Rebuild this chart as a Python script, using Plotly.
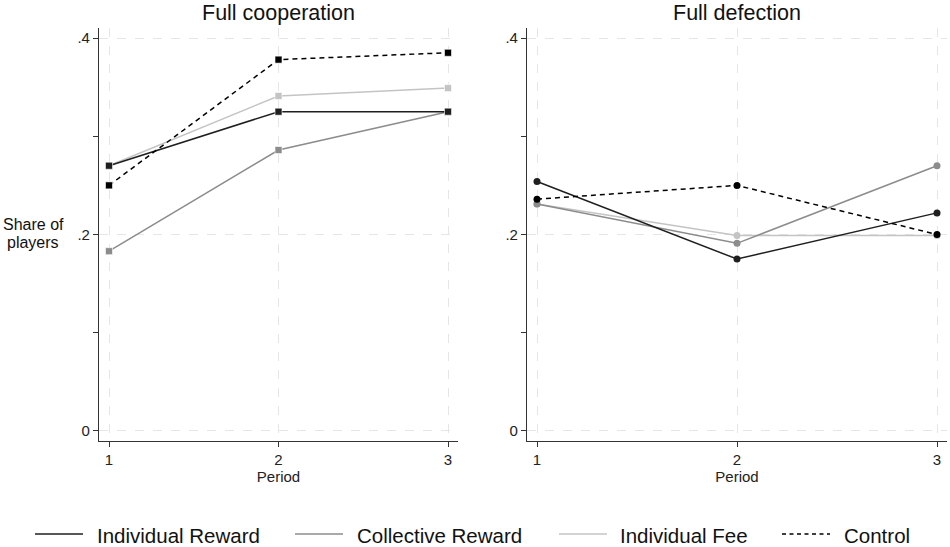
import plotly.graph_objects as go

periods = [1, 2, 3]
series_names = ["Individual Reward", "Collective Reward", "Individual Fee", "Control"]

coop_individual_reward = [0.270, 0.325, 0.325]
coop_collective_reward = [0.183, 0.286, 0.325]
coop_individual_fee = [0.270, 0.341, 0.349]
coop_control = [0.250, 0.378, 0.385]

defect_individual_reward = [0.254, 0.175, 0.222]
defect_collective_reward = [0.231, 0.191, 0.270]
defect_individual_fee = [0.231, 0.199, 0.199]
defect_control = [0.236, 0.250, 0.200]

y_tickvals = [0, 0.2, 0.4]
y_ticktext = ["0", ".2", ".4"]
x_tickvals = [1, 2, 3]
panel_titles = ["Full cooperation", "Full defection"]
y_title_lines = ["Share of", "players"]

colors = ["#1f1f1f", "#8c8c8c", "#c4c4c4", "#000000"]
dashes = ["solid", "solid", "solid", "5px,4px"]

coop = [coop_individual_reward, coop_collective_reward, coop_individual_fee, coop_control]
defect = [defect_individual_reward, defect_collective_reward, defect_individual_fee, defect_control]

FONT = "Liberation Sans, Arial"

fig = go.Figure()

for i in [2, 1, 0, 3]:
    fig.add_trace(go.Scatter(
        x=periods, y=coop[i], mode="lines+markers", showlegend=False, name=series_names[i],
        line=dict(color=colors[i], width=1.5, dash=dashes[i]),
        marker=dict(symbol="square", size=7, color=colors[i],
                    line=dict(color="white", width=0.6)),
        xaxis="x", yaxis="y"))
for i in [2, 1, 0, 3]:
    fig.add_trace(go.Scatter(
        x=periods, y=defect[i], mode="lines+markers", showlegend=False, name=series_names[i],
        line=dict(color=colors[i], width=1.5, dash=dashes[i]),
        marker=dict(symbol="circle", size=7, color=colors[i]),
        xaxis="x2", yaxis="y2"))

# body margin is removed via post_script, so the figure fills the window
W, H = 950, 547
def fx(p):
    return p / W
def fy(p):
    return 1 - p / H

axis_common = dict(
    showline=True, linecolor="#333333", linewidth=1.2,
    ticks="outside", ticklen=5, tickcolor="#333333",
    showgrid=True, gridcolor="#e6e6e6", griddash="dash", gridwidth=1,
    zeroline=False, tickfont=dict(family=FONT, size=15, color="#222"),
)

xcommon = dict(axis_common, tickvals=x_tickvals, ticktext=[str(v) for v in x_tickvals],
               tickfont=dict(family=FONT, size=15, color="#222"),
               title=dict(text="Period", font=dict(family=FONT, size=15, color="#222"), standoff=2))
ycommon = dict(axis_common, tickvals=y_tickvals, ticktext=y_ticktext, range=[-0.0102, 0.4102],
               minor=dict(tickvals=[0.1, 0.3], ticks="outside", ticklen=5, tickcolor="#333333", showgrid=False))

annotations = [
    dict(text=panel_titles[0], x=(fx(99) + fx(458)) / 2, y=fy(13), xref="paper", yref="paper",
         showarrow=False, font=dict(family=FONT, size=21.5, color="#111"),
         xanchor="center", yanchor="middle"),
    dict(text=panel_titles[1], x=(fx(527) + fx(947)) / 2, y=fy(13), xref="paper", yref="paper",
         showarrow=False, font=dict(family=FONT, size=21.5, color="#111"),
         xanchor="center", yanchor="middle"),
    dict(text=y_title_lines[0], x=fx(33), y=fy(225), xref="paper", yref="paper",
         showarrow=False, font=dict(family=FONT, size=16, color="#111"),
         xanchor="center", yanchor="middle"),
    dict(text=y_title_lines[1], x=fx(33), y=fy(242), xref="paper", yref="paper",
         showarrow=False, font=dict(family=FONT, size=16, color="#111"),
         xanchor="center", yanchor="middle"),
]

# manual legend (lines only), laid out as in the reference
leg_y = 534
leg_line_x = [(35, 83), (295, 343), (559, 607), (782, 830)]
leg_text_x = [95, 355, 618, 842]
shapes = []
for i, name in enumerate(series_names):
    x0, x1 = leg_line_x[i]
    shapes.append(dict(type="line", xref="paper", yref="paper",
                       x0=fx(x0), x1=fx(x1), y0=fy(leg_y), y1=fy(leg_y),
                       line=dict(color=colors[i], width=1.5,
                                 dash="4px,3.5px" if i == 3 else "solid")))
    annotations.append(dict(text=name, x=fx(leg_text_x[i]), y=fy(leg_y + 1), xref="paper", yref="paper",
                            showarrow=False, font=dict(family=FONT, size=20.5, color="#111"),
                            xanchor="left", yanchor="middle"))

fig.update_layout(
    width=W, height=H,
    margin=dict(l=0, r=0, t=0, b=0),
    plot_bgcolor="white", paper_bgcolor="white",
    showlegend=False,
    xaxis=dict(xcommon, domain=[fx(99), fx(458)], range=[0.941, 3.059], anchor="y"),
    yaxis=dict(ycommon, domain=[fy(441), fy(28)], anchor="x"),
    xaxis2=dict(xcommon, domain=[fx(527), fx(947)], range=[0.95, 3.05], anchor="y2"),
    yaxis2=dict(ycommon, domain=[fy(441), fy(28)], anchor="x2"),
    annotations=annotations,
    shapes=shapes,
)

fig.write_html("out.html", config={"displayModeBar": False},
               post_script="document.body.style.margin='0';document.body.style.overflow='hidden';")
